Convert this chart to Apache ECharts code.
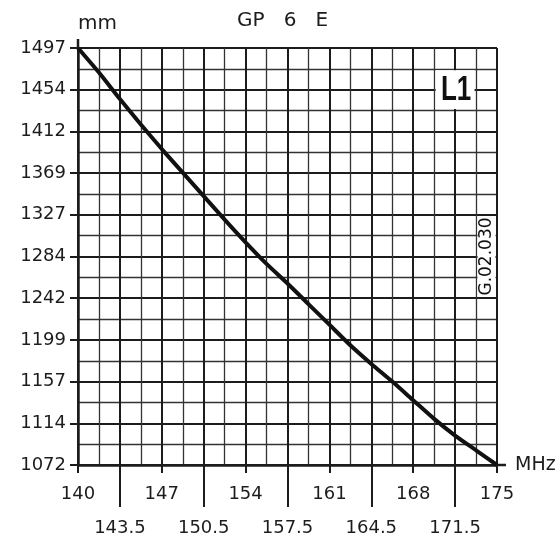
<!DOCTYPE html>
<html><head><meta charset="utf-8">
<script src="https://cdn.jsdelivr.net/npm/echarts@6/dist/echarts.min.js"></script>
<style>html,body{margin:0;padding:0;background:#fff}#c{width:560px;height:539px}</style>
</head><body><div id="c"></div>
<script>
// Frequency (MHz) and length L1 (mm)
const freq = [140, 141.75, 143.5, 145.25, 147, 148.75, 150.5, 152.25, 154, 155.75, 157.5, 159.25, 161, 162.75, 164.5, 166.25, 168, 169.75, 171.5, 173.25, 175];
const lengthMM = [1497, 1472, 1445, 1419, 1394, 1370, 1346, 1322, 1299, 1277, 1257, 1236, 1215, 1194, 1175, 1157, 1138, 1119, 1102, 1087, 1072];
const yTickLabels = ['1072', '1114', '1157', '1199', '1242', '1284', '1327', '1369', '1412', '1454', '1497'];
const xLabelsRow1 = [140, 147, 154, 161, 168, 175];
const xLabelsRow2 = [143.5, 150.5, 157.5, 164.5, 171.5];

const FONT = 'DejaVu Sans';
const INK = '#1c1c1c';
const X_MIN = 140, X_MAX = 175, Y_MIN = 1072, Y_MAX = 1497;

const chart = echarts.init(document.getElementById('c'), null, {renderer: 'canvas'});

const baseX = {
  type: 'value', min: X_MIN, max: X_MAX, position: 'bottom', offset: 0,
  splitLine: {show: false}, axisLine: {show: false}
};

chart.setOption({
  animation: false,
  backgroundColor: '#fff',
  title: {
    text: 'GP   6   E', left: 237, top: 11, padding: 0,
    textStyle: {fontFamily: FONT, fontSize: 20, fontWeight: 'normal', color: INK}
  },
  grid: {left: 78, top: 48, right: 63, bottom: 74, containLabel: false},
  xAxis: [
    Object.assign({}, baseX, {
      interval: 3.5,
      axisLine: {show: true, lineStyle: {color: INK, width: 2.5}},
      axisTick: {show: false},
      axisLabel: {show: false},
      splitLine: {show: true, lineStyle: {color: INK, width: 2}},
      minorTick: {show: false, splitNumber: 2},
      minorSplitLine: {show: true, lineStyle: {color: '#333', width: 1.3}},
      name: 'MHz', nameLocation: 'end', nameGap: 18,
      nameTextStyle: {fontFamily: FONT, fontSize: 19, color: INK, verticalAlign: 'middle'}
    }),
    Object.assign({}, baseX, {
      interval: 7,
      axisTick: {show: true, length: 8, customValues: xLabelsRow1, lineStyle: {color: INK, width: 2}},
      axisLabel: {show: true, customValues: xLabelsRow1, margin: 20, fontFamily: FONT, fontSize: 18, color: INK}
    }),
    Object.assign({}, baseX, {
      interval: 7,
      axisTick: {show: true, length: 42, customValues: xLabelsRow2, lineStyle: {color: INK, width: 2}},
      axisLabel: {show: true, customValues: xLabelsRow2, margin: 54, fontFamily: FONT, fontSize: 18, color: INK}
    })
  ],
  yAxis: {
    type: 'value', min: Y_MIN, max: Y_MAX, interval: 42.5,
    axisLine: {show: true, lineStyle: {color: INK, width: 2.5}},
    axisTick: {show: true, length: 8, lineStyle: {color: INK, width: 2}},
    axisLabel: {
      margin: 12, fontFamily: FONT, fontSize: 18, color: INK,
      formatter: function (v) { return yTickLabels[Math.round((v - Y_MIN) / 42.5)] || ''; }
    },
    splitLine: {show: true, lineStyle: {color: INK, width: 2}},
    minorTick: {show: false, splitNumber: 2},
    minorSplitLine: {show: true, lineStyle: {color: '#333', width: 1.3}},
    name: 'mm', nameLocation: 'end', nameGap: 14,
    nameTextStyle: {fontFamily: FONT, fontSize: 20, color: INK, align: 'left', padding: [0, 0, 0, 0]}
  },
  series: [{
    type: 'line', xAxisIndex: 0, yAxisIndex: 0,
    data: freq.map((f, i) => [f, lengthMM[i]]),
    smooth: 0.2, symbol: 'none',
    lineStyle: {color: '#111', width: 4}, z: 5
  }]
});

function px(x, y) { return chart.convertToPixel({gridIndex: 0}, [x, y]); }

const tl = px(X_MIN, Y_MAX), br = px(X_MAX, Y_MIN);
const l1a = px(169.75, 1475.75), l1b = px(173.25, 1433.25);
const ga = px(173.25, 1327), gb = px(175, 1242);

chart.setOption({
  graphic: [
    // axis-line extensions
    {type: 'line', shape: {x1: tl[0], y1: tl[1] - 9, x2: tl[0], y2: tl[1]}, style: {stroke: INK, lineWidth: 2.5}, z: 10},
    {type: 'line', shape: {x1: br[0], y1: br[1], x2: br[0] + 9, y2: br[1]}, style: {stroke: INK, lineWidth: 2.5}, z: 10},
    {type: 'line', shape: {x1: br[0], y1: br[1], x2: br[0], y2: br[1] + 8}, style: {stroke: INK, lineWidth: 2}, z: 10},
    // L1 box
    {type: 'rect', shape: {x: l1a[0] + 1.5, y: l1a[1] + 1.5, width: l1b[0] - l1a[0] - 3, height: l1b[1] - l1a[1] - 3},
     style: {fill: '#fff'}, z: 20},
    {type: 'text', x: (l1a[0] + l1b[0]) / 2 + 1, y: (l1a[1] + l1b[1]) / 2 + 1, scaleY: 1.35,
     originX: 0, originY: 0,
     style: {text: 'L1', fontFamily: 'Liberation Sans', fontWeight: 'bold', fontSize: 26, fill: '#111',
             textAlign: 'center', textVerticalAlign: 'middle'}, z: 21},
    // G.02.030 box
    {type: 'rect', shape: {x: ga[0] + 1.5, y: ga[1] + 1.5, width: gb[0] - ga[0] - 3, height: gb[1] - ga[1] - 3},
     style: {fill: '#fff'}, z: 20},
    {type: 'text', x: (ga[0] + gb[0]) / 2, y: (ga[1] + gb[1]) / 2, rotation: Math.PI / 2,
     style: {text: 'G.02.030', fontFamily: FONT, fontSize: 17, fill: '#111',
             textAlign: 'center', textVerticalAlign: 'middle'}, z: 21}
  ]
});
</script>
</body></html>
